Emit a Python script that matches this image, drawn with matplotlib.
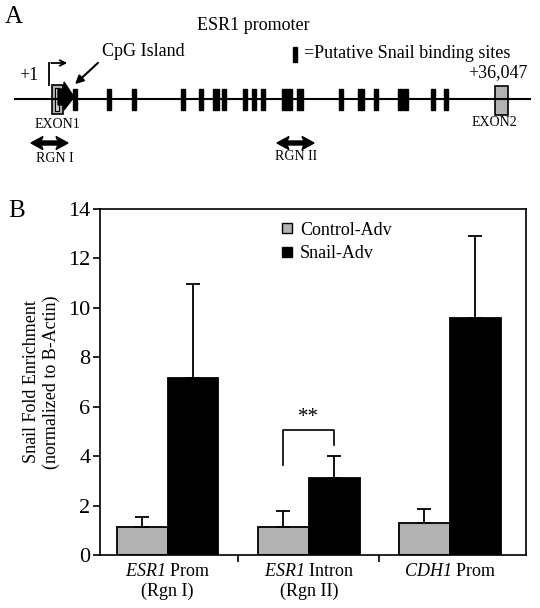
import numpy as np
import matplotlib
matplotlib.use('Agg')
import matplotlib.pyplot as plt
from matplotlib.patches import Rectangle, Polygon
from matplotlib.lines import Line2D

plt.rcParams['font.family'] = ['Liberation Serif', 'DejaVu Serif']
plt.rcParams['mathtext.fontset'] = 'custom'
# se usa \mathsf como cursiva para que los digitos tambien salgan en cursiva
plt.rcParams['mathtext.sf'] = 'Liberation Serif:italic'
plt.rcParams['mathtext.rm'] = 'Liberation Serif'

# datos del panel B
categorias = [r'$\mathsf{ESR1}$ Prom' + '\n(Rgn I)',
              r'$\mathsf{ESR1}$ Intron' + '\n(Rgn II)',
              r'$\mathsf{CDH1}$ Prom']
control = [1.13, 1.15, 1.28]
control_err = [0.41, 0.63, 0.58]
snail = [7.16, 3.13, 9.6]
snail_err = [3.8, 0.88, 3.32]

# panel A: sitios de union (posicion en el esquema, ancho)
sitios_x = [75, 109, 134, 183, 201, 215.5, 224, 245, 254, 263, 287, 299.5,
            341, 361, 376, 400, 405.5, 433, 446]
sitios_w = [4, 4, 4, 4, 4, 6, 4, 4, 4, 4, 10, 6, 4, 6, 4, 4, 5, 4, 4]

gris = '#b2b2b2'

fig = plt.figure(figsize=(5.4, 6.08), dpi=100)

# ---------------- Panel A ----------------
axA = fig.add_axes([0, 1 - 180 / 608, 1, 180 / 608])
axA.set_xlim(0, 540)
axA.set_ylim(180, 0)
axA.axis('off')

axA.text(5, 17, 'A', fontsize=18, va='center', ha='left')
axA.text(253, 25, 'ESR1 promoter', fontsize=13, ha='center', va='center')
axA.add_patch(Rectangle((293, 47), 4, 15, color='black'))
axA.text(304, 54, '=Putative Snail binding sites', fontsize=13, ha='left', va='center')
axA.text(102, 52, 'CpG Island', fontsize=13, ha='left', va='center')
axA.annotate('', xy=(73, 86), xytext=(100, 61),
             arrowprops=dict(arrowstyle='-|>', color='black', lw=1.5, mutation_scale=12))
axA.text(19, 76, '+1', fontsize=13, ha='left', va='center')
axA.text(527, 73, '+36,047', fontsize=13, ha='right', va='center')

axA.plot([15, 530], [99, 99], color='black', lw=1.5)

for x, w in zip(sitios_x, sitios_w):
    axA.add_patch(Rectangle((x - w / 2, 89), w, 21, color='black'))

# exon 1 con promotor
axA.add_patch(Rectangle((52, 85), 11, 29, facecolor=gris, edgecolor='black', lw=1.2))
axA.add_patch(Rectangle((55, 88), 4, 23, facecolor='#d0d0d0', edgecolor='black', lw=0.8))
axA.add_patch(Polygon([(58, 89), (64, 89), (64, 82), (74, 97), (64, 110), (64, 105), (58, 105)],
                      closed=True, color='black'))
axA.plot([49, 49], [85, 63], color='black', lw=1.3)
axA.annotate('', xy=(70, 63), xytext=(48.4, 63),
             arrowprops=dict(arrowstyle='->', color='black', lw=1.3, mutation_scale=10))

axA.add_patch(Rectangle((495, 86), 13, 29, facecolor=gris, edgecolor='black', lw=1.2))
axA.text(57, 125, 'EXON1', fontsize=10, ha='center', va='center')
axA.text(494, 123, 'EXON2', fontsize=10, ha='center', va='center')

# flechas dobles de las regiones amplificadas
for x0, x1 in [(31, 68), (277, 314)]:
    yc = 143
    hl, hw, sw = 12, 6.5, 2
    axA.add_patch(Polygon([(x0, yc), (x0 + hl, yc - hw), (x0 + hl - 2, yc - sw),
                           (x1 - hl + 2, yc - sw), (x1 - hl, yc - hw), (x1, yc),
                           (x1 - hl, yc + hw), (x1 - hl + 2, yc + sw),
                           (x0 + hl - 2, yc + sw), (x0 + hl, yc + hw)],
                          closed=True, color='black'))
axA.text(55, 158, 'RGN I', fontsize=10, ha='center', va='center')
axA.text(296, 157, 'RGN II', fontsize=10, ha='center', va='center')

# ---------------- Panel B ----------------
ax = fig.add_axes([100 / 540, 53 / 608, 426 / 540, 346 / 608])
x = np.arange(len(categorias))
ancho = 0.36
ax.bar(x - ancho / 2, control, ancho, color=gris, edgecolor='black', lw=1.3,
       yerr=[np.zeros(3), control_err], capsize=5, error_kw=dict(lw=1.3, capthick=1.3),
       label='Control-Adv')
ax.bar(x + ancho / 2, snail, ancho, color='black', edgecolor='black', lw=1.3,
       yerr=[np.zeros(3), snail_err], capsize=5, error_kw=dict(lw=1.3, capthick=1.3),
       label='Snail-Adv')

ax.set_xlim(-0.48, 2.54)
ax.set_ylim(0, 14)
ax.set_yticks(np.arange(0, 15, 2))
ax.tick_params(axis='y', labelsize=16, direction='out', length=5, width=1.2, pad=2)
ax.set_xticks(x)
ax.set_xticklabels(categorias, fontsize=13)
ax.tick_params(axis='x', which='major', length=0, pad=6)
ax.set_xticks([0.5, 1.5], minor=True)
ax.tick_params(axis='x', which='minor', length=5, width=1.2, direction='out')
for s in ax.spines.values():
    s.set_linewidth(1.2)

ax.set_ylabel('Snail Fold Enrichment\n(normalized to B-Actin)', fontsize=13, labelpad=6)

# corchete de significancia
ax.plot([0.82, 0.82, 1.18, 1.18], [3.64, 5.05, 5.05, 4.45], color='black', lw=1.2)
ax.text(1.0, 5.55, '**', fontsize=15, ha='center', va='center')

h = [Line2D([], [], marker='s', ls='', mfc=gris, mec='black', ms=7),
     Line2D([], [], marker='s', ls='', mfc='black', mec='black', ms=7)]
ax.legend(h, ['Control-Adv', 'Snail-Adv'], loc='upper left', bbox_to_anchor=(0.38, 1.01),
          frameon=False, fontsize=13, handletextpad=0.2, labelspacing=0.35, handlelength=1.0)

fig.text(0.015, 1 - 211 / 608, 'B', fontsize=18, va='center', ha='left')

fig.savefig('out.png', dpi=100)
